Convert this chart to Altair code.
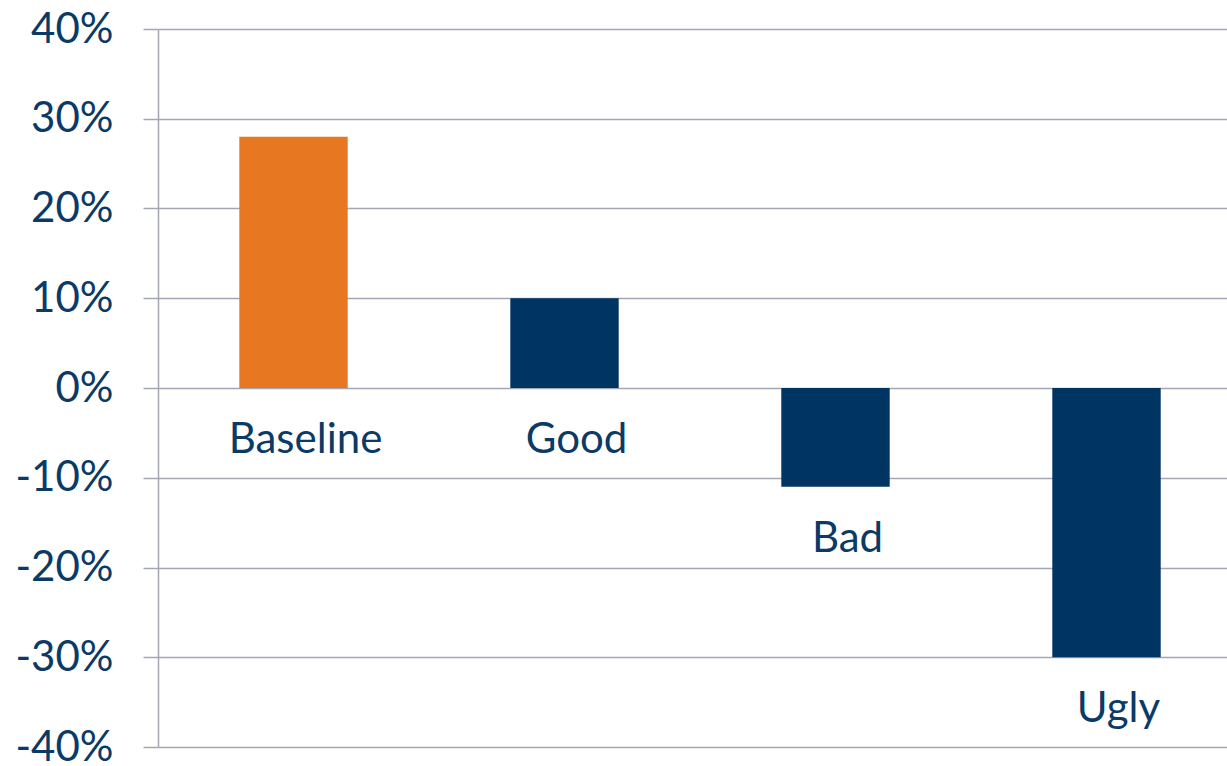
import altair as alt
import pandas as pd

categories = ["Baseline", "Good", "Bad", "Ugly"]
values = [0.28, 0.10, -0.11, -0.30]
colors = ["#E87722", "#003462", "#003462", "#003462"]
tick_values = [-0.4, -0.3, -0.2, -0.1, 0.0, 0.1, 0.2, 0.3, 0.4]

df = pd.DataFrame({"category": categories, "value": values, "color": colors})

FONT = "Lato"
TEXT_COLOR = "#0B3A66"
GRID = "#A4A6B6"

x = alt.X("category:N", sort=categories, axis=None,
          scale=alt.Scale(range=[0, 1084], paddingInner=0.6, paddingOuter=0.3))

y_scale = alt.Scale(domain=[-0.4, 0.4], nice=False)

bars = alt.Chart(df).mark_bar().encode(
    x=x,
    y=alt.Y("value:Q", scale=y_scale, title=None,
            axis=alt.Axis(values=tick_values,
                          labelExpr="(datum.value < -0.0001 ? '-' : '') + format(abs(datum.value)*100, '.0f') + '%'",
                          labelFont=FONT, labelFontSize=42, labelColor=TEXT_COLOR,
                          labelPadding=30, tickSize=15, tickColor=GRID, tickWidth=1.5,
                          domainColor=GRID, domainWidth=1.5,
                          grid=True, gridColor=GRID, gridWidth=1.5)),
    color=alt.Color("color:N", scale=None),
)

labels = alt.Chart(df).transform_calculate(
    anchor="min(datum.value, 0)"
).mark_text(font=FONT, fontSize=42, color=TEXT_COLOR, baseline="top", dy=32, dx=12).encode(
    x=x,
    y=alt.Y("anchor:Q", scale=y_scale),
    text="category:N",
)

chart = alt.layer(bars, labels).properties(
    width=1069, height=718,
    autosize=alt.AutoSizeParams(type="none"),
    padding={"left": 158, "top": 29, "right": 0, "bottom": 19},
).configure_view(stroke=None).configure(background="white")

chart.save("out.html", embed_options={"renderer": "svg", "actions": False})
